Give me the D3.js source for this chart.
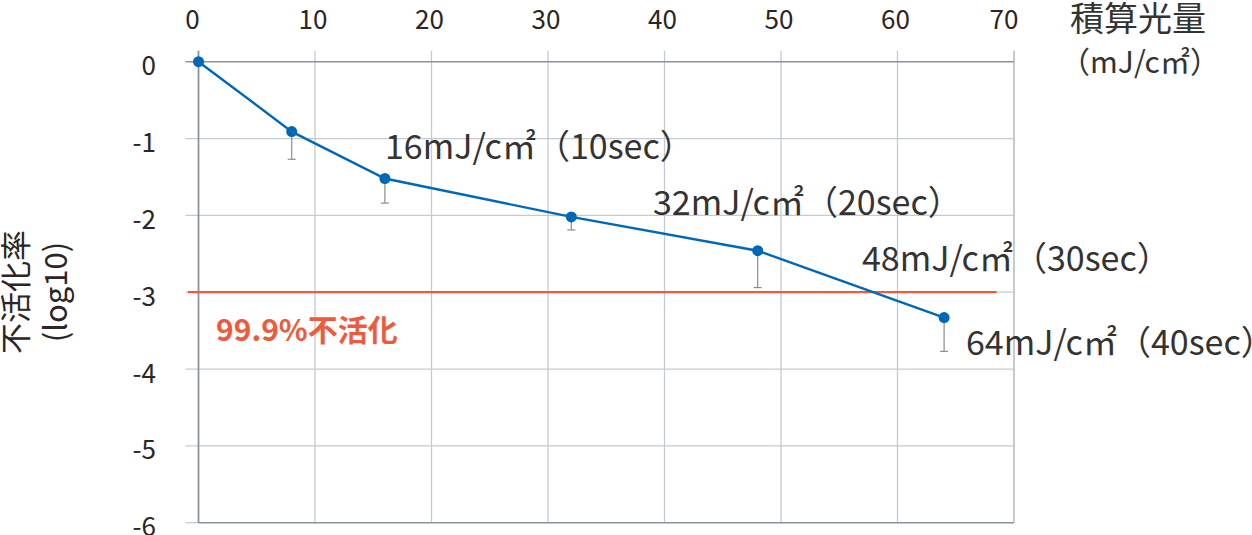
<!DOCTYPE html>
<html>
<head>
<meta charset="utf-8">
<script src="https://cdn.jsdelivr.net/npm/d3@7"></script>
<style>
  html, body { margin: 0; padding: 0; background: #fff; }
  svg { display: block; font-family: "Noto Sans CJK JP", "Noto Sans", sans-serif; }
</style>
</head>
<body>
<svg id="chart" width="1252" height="535"></svg>
<script>
// ---- data ----
const dose = [0, 8, 16, 32, 48, 64];                 // mJ/cm²
const logInact = [0, -0.91, -1.52, -2.02, -2.46, -3.33];
const errLow = [0, -1.27, -1.84, -2.19, -2.94, -3.77];
const xTicks = [0, 10, 20, 30, 40, 50, 60, 70];
const yTicks = [0, -1, -2, -3, -4, -5, -6];
const threshold = -3;
const thresholdLabel = "99.9%不活化";
const annotations = [
  { dose: 16, text: "16mJ/c㎡（10sec）" },
  { dose: 32, text: "32mJ/c㎡（20sec）" },
  { dose: 48, text: "48mJ/c㎡（30sec）" },
  { dose: 64, text: "64mJ/c㎡（40sec）" }
];
const xTitle = ["積算光量", "（mJ/c㎡）"];
const yTitle = ["不活化率", "(log10)"];

// ---- layout ----
const svg = d3.select("#chart");
const L = 198.5, R = 1014, T = 61.7, B = 522.7;
const x = d3.scaleLinear().domain([0, 70]).range([L, R]);
const y = d3.scaleLinear().domain([-6, 0]).range([B, T]);

const gridColor = "#c4cad3";
const borderColor = "#8a949f";
const textColor = "#2b2523";
const blue = "#0068b7";
const red = "#ee5a3c";

// vertical grid (extending above plot as tick marks)
svg.append("g").selectAll("line").data(xTicks.filter(d => d > 0 && d < 70)).join("line")
  .attr("x1", d => x(d)).attr("x2", d => x(d))
  .attr("y1", T - 11).attr("y2", B)
  .attr("stroke", gridColor).attr("stroke-width", 1.3);
// right border
svg.append("line").attr("x1", x(70)).attr("x2", x(70)).attr("y1", T - 11).attr("y2", B)
  .attr("stroke", "#b2b9c2").attr("stroke-width", 1.5);

// horizontal grid (extending left as tick marks)
svg.append("g").selectAll("line").data(yTicks.filter(d => d < 0 && d > -6)).join("line")
  .attr("x1", L - 13).attr("x2", R)
  .attr("y1", d => y(d)).attr("y2", d => y(d))
  .attr("stroke", gridColor).attr("stroke-width", 1.3);
// bottom tick extension
svg.append("line").attr("x1", L - 13).attr("x2", L).attr("y1", y(-6)).attr("y2", y(-6))
  .attr("stroke", gridColor).attr("stroke-width", 1.3);
// bottom border
svg.append("line").attr("x1", L).attr("x2", R).attr("y1", y(-6)).attr("y2", y(-6))
  .attr("stroke", borderColor).attr("stroke-width", 1.6);
// top border
svg.append("line").attr("x1", L - 13).attr("x2", R).attr("y1", y(0)).attr("y2", y(0))
  .attr("stroke", borderColor).attr("stroke-width", 1.6);
// left border
svg.append("line").attr("x1", L).attr("x2", L).attr("y1", T - 11).attr("y2", B)
  .attr("stroke", borderColor).attr("stroke-width", 1.8);

// x tick labels (top)
svg.append("g").selectAll("text").data(xTicks).join("text")
  .attr("x", d => x(d) - (d === 0 ? 6 : d === 70 ? 10 : 2))
  .attr("y", 29)
  .attr("text-anchor", "middle")
  .attr("font-size", 26)
  .attr("fill", textColor)
  .text(d => d);

// y tick labels (left)
svg.append("g").selectAll("text").data(yTicks).join("text")
  .attr("x", 156)
  .attr("y", d => y(d) + 2)
  .attr("dominant-baseline", "central")
  .attr("text-anchor", "end")
  .attr("font-size", 26)
  .attr("fill", textColor)
  .text(d => d);

// threshold line
svg.append("line")
  .attr("x1", x(-0.9)).attr("x2", x(68.5))
  .attr("y1", y(threshold)).attr("y2", y(threshold))
  .attr("stroke", red).attr("stroke-width", 2.2);
svg.append("text")
  .attr("x", 216).attr("y", 341)
  .attr("font-size", 30).attr("font-weight", "bold")
  .attr("fill", red)
  .text(thresholdLabel);

// error bars
const eb = svg.append("g").attr("stroke", "#8c8c8c").attr("stroke-width", 1.2);
dose.forEach((d, i) => {
  if (errLow[i] === logInact[i]) return;
  eb.append("line").attr("x1", x(d)).attr("x2", x(d))
    .attr("y1", y(logInact[i])).attr("y2", y(errLow[i]));
  eb.append("line").attr("x1", x(d) - 4).attr("x2", x(d) + 4)
    .attr("y1", y(errLow[i])).attr("y2", y(errLow[i]));
});

// data line
const pts = dose.map((d, i) => [d, logInact[i]]);
svg.append("path")
  .datum(pts)
  .attr("fill", "none")
  .attr("stroke", blue)
  .attr("stroke-width", 2.4)
  .attr("d", d3.line().x(d => x(d[0])).y(d => y(d[1])));
svg.append("g").selectAll("circle").data(pts).join("circle")
  .attr("cx", d => x(d[0])).attr("cy", d => y(d[1])).attr("r", 5.5)
  .attr("fill", blue);

// annotations
const annPos = { 16: [385, 159], 32: [653, 215], 48: [862, 271], 64: [966, 355] };
svg.append("g").selectAll("text").data(annotations).join("text")
  .attr("x", d => annPos[d.dose][0])
  .attr("y", d => annPos[d.dose][1])
  .attr("font-size", 34)
  .attr("fill", "#333")
  .text(d => d.text);

// x title (top right)
svg.append("text").attr("x", 1138).attr("y", 31).attr("text-anchor", "middle")
  .attr("font-size", 34).attr("fill", "#333").text(xTitle[0]);
svg.append("text").attr("x", 1140).attr("y", 73).attr("text-anchor", "middle")
  .attr("font-size", 30).attr("fill", "#333").text(xTitle[1]);

// y title (rotated)
const yt = svg.append("text").attr("transform", "translate(27,292) rotate(-90)")
  .attr("text-anchor", "middle").attr("font-size", 31).attr("fill", textColor);
yt.append("tspan").attr("x", 0).attr("y", 0).text(yTitle[0]);
yt.append("tspan").attr("x", 0).attr("y", 40).text(yTitle[1]);
</script>
</body>
</html>
